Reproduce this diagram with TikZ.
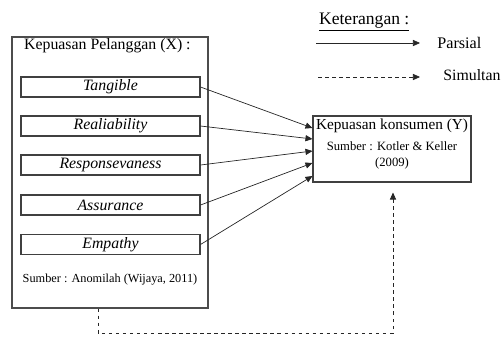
\documentclass[tikz,border=0pt]{standalone}
\usepackage{fontspec}
\setmainfont{Liberation Serif}
\usetikzlibrary{arrows.meta,positioning}

\tikzset{
  dimbox/.style={draw=black!75, semithick, minimum width=3.58cm, minimum height=0.4cm,
    inner sep=0pt, font=\fontsize{9}{10}\selectfont\itshape},
  link/.style={draw=black!85, -{Triangle[length=4pt,width=3.5pt]}},
  simlink/.style={link, dash pattern=on 2pt off 2pt},
}

\begin{document}
\begin{tikzpicture}[x=0.02cm,y=-0.02cm]
\useasboundingbox (0,0) rectangle (503,336);
% variabel X
\node[draw=black!70, thick, minimum width=3.92cm, minimum height=5.42cm, inner sep=0pt] (kx) at (110,172.5) {};
\node[anchor=west, font=\fontsize{9}{10}\selectfont] (kxlab) at (18,46) {Kepuasan Pelanggan (X) :};
\node[dimbox] (tang) at (110.5,87) {Tangible};
\node[dimbox] (real) at (110.5,126) {Realiability};
\node[dimbox] (resp) at (110.5,165) {Responsevaness};
\node[dimbox] (assu) at (110.5,205) {Assurance};
\node[dimbox] (empa) at (110.5,244.5) {Empathy};
\node[font=\fontsize{7}{8}\selectfont] (kxsrc) at (110,280) {Sumber : Anomilah (Wijaya, 2011)};
% variabel Y
\node[draw=black!75, semithick, minimum width=3.16cm, minimum height=1.32cm, inner sep=0pt] (ky) at (392,149) {};
\node[font=\fontsize{8.7}{10}\selectfont] (kylab) at (392,126) {Kepuasan konsumen (Y)};
\node[font=\fontsize{7.2}{8}\selectfont] (kysrc) at (392,146) {Sumber : Kotler \& Keller};
\node[font=\fontsize{7.2}{8}\selectfont] (kyyr) at (392,163) {(2009)};
% parsial
\draw[link] (tang.east) -- ([yshift=0.42cm]ky.west);
\draw[link] (real.east) -- ([yshift=0.2cm]ky.west);
\draw[link] (resp.east) -- ([yshift=-0.04cm]ky.west);
\draw[link] (assu.east) -- ([yshift=-0.28cm]ky.west);
\draw[link] (empa.east) -- ([yshift=-0.54cm]ky.west);
% simultan
\coordinate (dl) at (98,333);
\coordinate (dr) at (393,333);
\draw[simlink, shorten >=0.2cm] (kx.south -| dl) -- (dl) -- (dr) -- (ky.south -| dr);
% keterangan
\node[anchor=west, font=\fontsize{10}{12}\selectfont, inner sep=1pt] (ket) at (317,22) {\underline{Keterangan :}};
\coordinate (pa) at (316,43);
\coordinate (pb) at (420,43);
\coordinate (sa) at (318,77);
\coordinate (sb) at (420,77);
\node[anchor=west, font=\fontsize{9.2}{11}\selectfont, inner sep=0pt] (par) at (437,43) {Parsial};
\node[anchor=west, font=\fontsize{9}{11}\selectfont, inner sep=0pt] (sim) at (443,75) {Simultan};
\draw[link] (pa) -- (pb);
\draw[simlink] (sa) -- (sb);
\end{tikzpicture}
\end{document}
